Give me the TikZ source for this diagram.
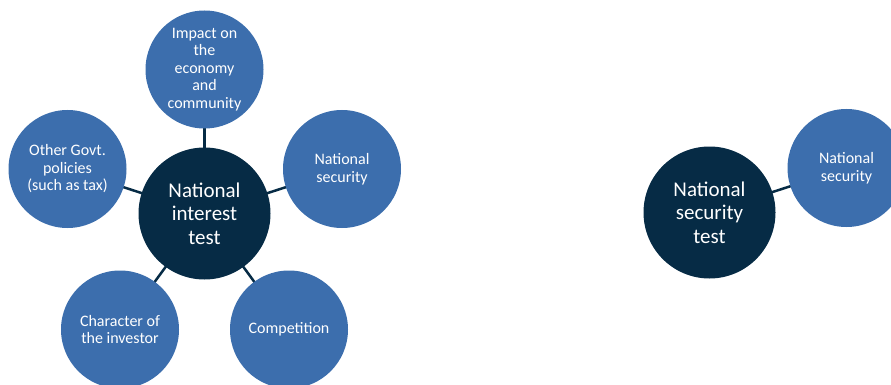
\documentclass[tikz,border=0pt]{standalone}
\usepackage{fontspec}
\setmainfont{Carlito}
\usetikzlibrary{backgrounds}
\definecolor{nblue}{HTML}{3C6EAD}
\definecolor{ndark}{HTML}{062B45}
\begin{document}
\begin{tikzpicture}[x=1pt,y=-1pt,
  outer/.style={circle, fill=nblue, minimum size=118pt, inner sep=0pt, text=white, align=center, font=\fontsize{16}{17.5}\selectfont},
  hub/.style={circle, fill=ndark, minimum size=132pt, inner sep=0pt, text=white, align=center, font=\fontsize{21}{23.7}\selectfont},
  link/.style={draw=ndark, line width=2.5pt}]
\useasboundingbox (0,0) rectangle (891,385);
\clip (0,0) rectangle (891,385);
% left diagram
\node[hub] (nit) at (204.5,213.5) {National\\interest\\test};
\node[outer] (imp) at (204.5,69.5) {Impact on\\the\\economy\\and\\community};
\node[outer] (ns1) at (342,169) {National\\security};
\node[outer] (ogp) at (67.5,169) {Other Govt.\\policies\\(such as tax)};
\node[outer] (chi) at (120,329.5) {Character of\\the investor};
\node[outer] (com) at (289,329.5) {Competition};
% right diagram
\node[hub] (nst) at (709.5,212.5) {National\\security\\test};
\node[outer] (ns2) at (846.5,168) {National\\security};
\begin{scope}[on background layer]
  \draw[link] (nit.center) -- (imp.center);
  \draw[link] (nit.center) -- (ns1.center);
  \draw[link] (nit.center) -- (ogp.center);
  \draw[link] (nit.center) -- (chi.center);
  \draw[link] (nit.center) -- (com.center);
  \draw[link] (nst.center) -- (ns2.center);
\end{scope}
\end{tikzpicture}
\end{document}
